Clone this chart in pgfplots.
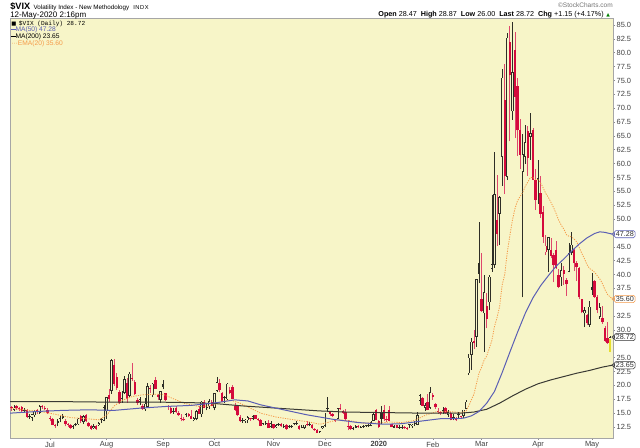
\documentclass[border=0pt]{standalone}
\usepackage{pgfplots}
\pgfplotsset{compat=1.18}
\usepackage{pgfplotstable}
\usepackage{fontspec}
\setmainfont{Liberation Sans}
\newfontfamily\monofont{Liberation Mono}
\newfontfamily\symfont{DejaVu Sans}

\definecolor{chartbg}{HTML}{F7F5C8}
\definecolor{candlered}{HTML}{D40A3C}
\definecolor{candledark}{HTML}{2E2E26}
\definecolor{mablue}{HTML}{5A5EB4}
\definecolor{madark}{HTML}{3A3A34}
\definecolor{emaorange}{HTML}{F59A48}
\definecolor{lastyellow}{HTML}{E6DE2C}

% trading day index (0 = 1 Jul 2019), open, high, low, close, kind
% kind: 1 hollow black, 2 hollow red, 3 filled black, 4 filled red
\pgfplotstableread{
i o h l c k
-15 16.0 16.3 15.4 15.9 4
-14 15.6 16.4 15.3 16.0 1
-13 16.2 16.5 15.6 15.9 4
-12 15.7 16.1 15.3 15.8 2
-11 16.1 16.3 15.2 15.3 4
-10 15.6 15.9 15.1 15.4 3
-9 15.5 15.7 14.2 14.3 4
-8 14.4 14.9 13.9 14.3 3
-7 14.2 14.9 13.6 14.8 1
-6 14.6 15.5 14.3 15.4 1
-5 15.6 15.8 14.9 15.3 4
-4 15.1 16.5 14.9 16.3 1
-3 16.1 16.5 15.8 16.2 2
-2 16.0 16.2 15.5 15.8 4
-1 15.5 15.9 14.9 15.1 4
0 14.0 14.4 13.5 14.1 2
1 13.9 14.2 12.8 12.9 4
2 12.9 13.0 12.4 12.6 4
3 13.5 14.0 12.6 13.3 3
4 14.0 14.5 13.4 14.0 3
5 14.5 14.9 13.9 14.1 3
6 13.6 14.0 12.6 13.0 4
7 12.9 13.3 12.5 12.9 4
8 12.8 13.0 12.2 12.4 4
9 12.5 12.9 12.2 12.7 1
10 12.9 13.2 12.6 12.9 3
11 13.0 14.1 12.9 14.0 1
12 14.4 14.7 13.2 13.5 4
13 13.4 14.6 13.0 14.5 1
14 14.6 14.8 13.4 13.5 4
15 13.2 13.4 12.5 12.6 4
16 12.7 12.9 12.0 12.1 4
17 12.3 13.1 12.1 12.7 1
18 12.6 12.8 12.0 12.2 4
19 12.9 13.4 12.7 13.2 1
20 13.7 14.2 13.2 13.9 1
21 13.6 16.4 13.5 16.1 1
22 15.3 18.0 14.0 17.9 1
23 18.3 19.4 17.1 17.6 4
24 19.0 24.8 18.5 24.6 1
25 23.7 24.8 19.9 20.2 4
26 21.5 22.2 19.2 19.5 4
27 18.9 19.1 16.7 16.9 4
28 17.6 19.0 16.9 18.0 1
29 18.7 21.7 18.5 21.1 1
30 20.4 21.3 16.9 17.5 4
31 18.1 22.4 17.9 22.1 1
32 21.3 24.1 20.8 21.2 4
33 20.6 20.9 18.3 18.5 4
34 17.4 17.8 16.5 16.9 4
35 17.1 17.9 16.5 17.5 1
36 16.2 16.6 15.6 15.8 4
37 15.7 17.7 15.4 16.7 1
38 16.1 20.4 16.0 19.9 1
39 19.3 20.0 18.6 19.3 4
40 18.2 20.5 17.9 20.3 1
41 21.0 21.5 19.3 19.4 4
42 18.3 18.4 17.3 17.9 4
43 17.4 19.0 16.9 19.0 1
44 20.2 21.0 19.3 19.7 3
45 18.6 18.7 17.2 17.3 4
46 16.1 16.5 15.6 16.3 2
47 15.9 16.1 14.9 15.0 4
48 15.4 16.0 14.9 15.3 3
49 15.9 16.3 15.1 15.2 4
50 15.1 15.3 14.5 14.6 4
51 14.0 14.8 13.5 14.2 2
52 14.0 14.3 13.5 13.7 4
53 14.9 15.0 14.3 14.7 3
54 14.9 15.1 14.3 14.4 4
55 14.5 15.5 13.9 14.0 4
56 13.7 14.3 13.5 14.1 1
57 14.0 15.6 13.7 15.3 1
58 15.8 16.2 14.9 14.9 4
59 14.8 17.2 14.3 17.1 1
60 17.0 17.3 15.9 16.0 4
61 15.9 16.6 15.5 16.1 1
62 16.2 17.6 15.8 17.2 1
63 17.1 17.3 16.2 16.2 4
64 15.9 18.7 15.5 18.6 1
65 19.0 21.5 18.8 20.6 1
66 20.5 21.1 18.8 19.1 4
67 18.6 18.8 17.0 17.0 4
68 17.7 18.1 16.9 17.9 1
69 17.5 20.4 17.3 20.3 1
70 19.2 19.8 18.4 18.6 4
71 19.8 20.1 17.5 17.6 4
72 16.3 16.9 15.4 15.6 4
73 16.2 16.3 14.5 14.6 4
74 14.3 14.6 13.4 13.5 4
75 13.7 14.1 13.3 13.7 3
76 13.5 14.0 13.2 13.8 1
77 13.7 14.5 13.2 14.3 1
78 13.9 14.2 13.6 14.0 2
79 14.0 14.6 13.7 14.5 1
80 14.6 14.7 13.9 14.0 4
81 13.9 14.2 13.5 13.7 4
82 13.8 13.9 12.6 12.7 4
83 13.0 13.2 12.8 13.1 1
84 13.0 13.5 12.9 13.2 1
85 13.3 13.8 12.3 12.3 4
86 12.5 13.6 12.4 13.2 1
87 13.0 13.1 12.2 12.3 4
88 12.5 13.0 12.3 12.8 1
89 12.9 13.2 12.7 13.1 1
90 13.1 13.3 12.5 12.6 4
91 12.6 13.1 12.4 12.7 1
92 12.9 13.0 12.0 12.1 4
93 12.5 12.8 12.3 12.7 1
94 12.6 12.9 12.4 12.7 1
95 13.0 13.3 12.8 13.0 3
96 13.1 13.6 12.9 13.1 3
97 12.7 12.8 12.0 12.1 4
98 12.4 12.8 12.3 12.5 1
99 12.3 12.9 12.2 12.9 1
100 13.0 13.6 12.7 12.8 4
101 12.8 13.4 12.6 13.0 1
102 12.9 13.0 12.2 12.3 4
103 12.2 12.4 11.8 11.9 4
104 12.0 12.1 11.4 11.5 4
105 11.6 11.8 11.5 11.8 1
106 12.3 12.7 12.1 12.6 1
107 12.7 15.1 12.5 14.9 1
108 15.8 18.0 15.3 16.0 1
109 15.2 15.3 14.5 14.8 4
110 14.8 15.1 14.3 14.5 4
111 13.9 14.0 13.4 13.6 4
112 14.0 15.9 13.9 15.9 1
113 16.0 16.7 15.5 15.7 4
114 15.4 15.6 14.9 15.0 4
115 15.2 15.8 13.6 13.9 4
116 12.7 13.8 11.9 12.6 4
117 12.6 12.8 12.0 12.1 4
118 12.2 12.5 11.9 12.3 1
119 12.4 12.8 12.3 12.6 1
120 12.7 12.9 12.3 12.5 4
121 12.4 12.7 12.3 12.5 1
122 12.6 12.9 12.4 12.6 3
123 12.7 12.8 12.5 12.7 3
124 12.8 13.0 12.5 12.7 3
125 12.7 13.6 12.6 13.4 1
126 13.6 15.1 13.5 14.8 1
127 15.5 15.7 13.7 13.8 4
128 13.5 13.7 12.3 12.5 4
129 15.0 16.2 13.1 14.0 3
130 15.5 16.4 13.5 13.9 4
131 13.9 14.5 13.4 13.8 4
132 15.5 16.2 13.5 13.5 4
133 13.0 13.1 12.5 12.5 4
134 12.4 12.9 12.3 12.6 1
135 12.8 12.9 12.3 12.3 4
136 12.5 12.8 12.2 12.4 3
137 12.4 12.8 12.2 12.4 3
138 12.3 12.6 12.2 12.3 4
139 12.3 12.5 12.0 12.1 4
140 12.9 13.0 12.3 12.9 3
141 12.6 13.0 12.4 12.9 1
142 13.0 13.5 12.6 13.0 3
143 12.9 15.2 12.8 14.6 1
144 17.2 18.5 16.5 18.2 1
145 17.8 18.0 16.2 16.3 4
146 16.0 16.8 15.4 16.4 1
147 17.1 18.4 15.5 15.5 4
148 16.0 19.7 15.8 18.8 1
149 18.2 18.7 17.4 18.0 4
150 16.6 16.8 15.8 16.1 4
151 15.3 15.9 14.9 15.2 4
152 15.2 15.4 14.7 15.0 4
153 15.3 16.1 14.9 15.5 1
154 16.0 16.1 14.9 15.0 4
155 14.7 15.6 14.3 15.2 1
156 15.1 15.2 13.7 13.7 4
157 14.2 14.8 13.7 14.2 3
158 14.2 14.3 13.6 13.7 4
159 14.6 15.2 14.2 14.8 1
160 14.4 14.5 13.9 14.4 4
161 14.5 15.6 14.2 15.6 1
162 15.8 17.4 15.7 17.1 1
163 22.2 25.6 21.9 25.0 1
164 25.5 28.6 22.8 27.9 1
165 28.0 30.0 26.6 27.6 4
166 28.8 39.2 27.0 39.2 1
167 42.0 49.5 38.4 40.1 3
168 35.5 43.8 33.3 33.4 4
169 33.0 39.9 26.0 36.8 1
170 34.3 36.7 30.3 32.0 4
171 35.0 40.0 33.6 39.6 1
172 41.0 54.4 40.5 41.9 1
173 41.7 62.1 41.2 54.5 1
174 49.8 58.0 45.1 47.3 4
175 51.0 54.1 45.3 53.9 1
176 61.2 77.0 56.0 75.5 1
177 71.5 78.0 54.5 57.8 4
178 57.6 83.6 57.0 82.7 1
179 82.0 84.8 64.0 75.9 4
180 69.4 85.5 67.9 76.5 1
181 80.5 83.8 64.6 72.0 4
182 74.0 75.5 61.4 66.0 4
183 66.0 68.0 59.0 61.6 4
184 58.5 65.3 35.9 61.7 1
185 61.2 67.0 60.0 63.9 1
186 65.8 66.8 57.8 61.0 4
187 64.8 69.1 60.7 65.5 1
188 66.0 66.5 57.0 57.1 4
189 57.0 59.0 51.6 53.5 4
190 57.4 60.6 52.8 57.1 3
191 54.7 57.8 50.2 50.9 4
192 51.3 52.3 45.7 46.8 4
193 44.0 47.1 43.6 45.2 2
194 44.4 46.8 40.5 46.7 1
195 44.4 46.6 42.9 43.4 4
196 43.5 43.9 38.6 41.7 4
197 44.5 46.0 41.0 41.2 4
198 40.0 41.0 37.5 37.8 4
199 39.5 42.1 38.0 40.8 1
200 40.8 41.5 38.1 40.1 4
201 39.0 39.4 36.2 38.2 4
202 40.5 45.6 40.4 43.8 1
203 43.9 47.7 43.5 45.4 1
204 44.4 44.6 40.6 42.0 4
205 42.0 42.5 38.8 41.4 4
206 41.2 41.4 35.5 35.9 4
207 35.5 35.6 33.0 33.3 4
208 33.0 34.2 30.5 33.6 1
209 32.7 32.9 30.9 31.2 4
210 30.9 35.2 30.6 34.2 1
211 37.8 40.3 36.3 37.2 3
212 38.9 39.0 35.8 36.0 4
213 35.9 36.3 33.0 33.6 4
214 32.4 34.8 32.0 34.1 1
215 32.2 34.3 31.1 31.4 4
216 30.3 30.8 27.9 28.0 4
217 28.5 31.5 27.5 27.6 4
218 28.47 28.87 26.00 28.72 1
}\candles

\pgfplotsset{
  candle/.style 2 args={draw=none, mark=none,
    /pgfplots/error bars/y dir=plus, /pgfplots/error bars/y explicit,
    /pgfplots/error bars/error mark=none,
    /pgfplots/error bars/error bar style={draw=#1, line width=#2, line cap=butt}},
}

\begin{document}
\begin{tikzpicture}
\begin{axis}[
  name=main, at={(0pt,0pt)}, anchor=south west,
  scale only axis, width=452.25pt, height=315pt,
  xmin=-15.57, xmax=219.15, ymin=10.52, ymax=86.26,
  axis background/.style={fill=chartbg},
  axis line style={draw=black!35, line width=0.4pt},
  clip=false,
  ytick={12.5,15,17.5,20,22.5,25,30,32.5,37.5,40,42.5,45,50,52.5,55,57.5,60,62.5,65,67.5,70,72.5,75,77.5,80,82.5,85},
  yticklabels={12.5,15.0,17.5,20.0,22.5,25.0,30.0,32.5,37.5,40.0,42.5,45.0,50.0,52.5,55.0,57.5,60.0,62.5,65.0,67.5,70.0,72.5,75.0,77.5,80.0,82.5,85.0},
  ytick pos=right, xtick pos=left,
  tick align=outside, major tick length=1.5pt,
  tick style={draw=black!45, line width=0.4pt},
  yticklabel style={font=\fontsize{5.6}{6}\selectfont, text=black!75, inner sep=1pt},
  xtick={0,22,44,64,87,107,128,149,168,190,211},
  xticklabels={Jul,Aug,Sep,Oct,Nov,Dec,\textbf{2020},Feb,Mar,Apr,May},
  xticklabel style={font=\fontsize{5.6}{6}\selectfont, text=black!75, inner sep=1pt},
]
% wicks
\addplot[restrict expr to domain={mod(\thisrow{k},2)}{1:1}, candle={candledark}{0.55pt}]
  table[x=i, y=l, y error expr={\thisrow{h}-\thisrow{l}}] {\candles};
\addplot[restrict expr to domain={mod(\thisrow{k},2)}{0:0}, candle={candlered!75}{0.55pt}]
  table[x=i, y=l, y error expr={\thisrow{h}-\thisrow{l}}] {\candles};
% bodies
\addplot[restrict expr to domain={mod(\thisrow{k},2)}{1:1}, candle={candledark}{1.8pt}]
  table[x=i, y expr={min(\thisrow{o},\thisrow{c})},
        y error expr={max(abs(\thisrow{c}-\thisrow{o}),0.15)}] {\candles};
\addplot[restrict expr to domain={mod(\thisrow{k},2)}{0:0}, candle={candlered}{1.8pt}]
  table[x=i, y expr={min(\thisrow{o},\thisrow{c})},
        y error expr={max(abs(\thisrow{c}-\thisrow{o}),0.15)}] {\candles};
% hollow insides
\addplot[restrict expr to domain={\thisrow{k}}{1:2}, candle={chartbg}{0.8pt}]
  table[x=i, y expr={min(\thisrow{o},\thisrow{c})+0.12},
        y error expr={max(abs(\thisrow{c}-\thisrow{o})-0.24,0)}] {\candles};
% latest bar highlight
\addplot[candle={lastyellow}{1.6pt}] coordinates {(218,26.05) +- (0,2.35)};

% EMA(20)
\addplot[emaorange, line width=0.6pt, dash pattern=on 0.9pt off 0.9pt, mark=none] coordinates {
(-15.5,15.9) (-10,15.6) (-4,15.3) (2,14.8) (8,14.2) (14,14.0) (19,13.8) (22,14.6)
(25,16.3) (28,17.3) (32,18.0) (36,18.3) (40,18.4) (44,18.4) (48,17.6) (52,16.8)
(58,16.2) (62,16.3) (66,16.9) (70,17.4) (74,16.8) (78,15.9) (82,15.0) (88,14.3)
(95,13.8) (101,13.4) (105,13.0) (108,13.3) (112,13.8) (116,13.7) (122,13.2) (128,13.2)
(132,13.4) (137,13.3) (142,13.7) (146,14.6) (150,15.2) (155,15.3) (160,15.1) (162,15.4)
(163,16.3) (164,17.4) (165,18.4) (166,20.3) (167,22.2) (168,23.3) (169,24.6) (170,25.3)
(171,26.7) (172,28.1) (173,30.6) (174,32.2) (175,34.2) (176,38.1) (177,40.0) (178,44.0)
(179,47.0) (180,49.8) (181,51.9) (182,53.3) (183,54.1) (184,54.8) (185,55.9) (186,56.7)
(187,57.5) (188,57.5) (189,57.1) (190,57.1) (191,56.5) (192,55.6) (193,54.6) (194,53.9)
(195,53.0) (196,52.1) (197,51.0) (198,49.8) (199,48.9) (200,48.2) (201,47.2) (202,46.9)
(203,46.8) (204,46.4) (205,45.9) (206,44.9) (207,43.8) (208,42.9) (209,41.8) (210,41.1)
(211,40.8) (212,40.4) (213,39.8) (214,39.2) (215,38.4) (216,37.3) (217,36.4) (218.9,35.6)
};
% MA(200)
\addplot[madark, line width=0.75pt, mark=none] coordinates {
(-15.5,17.1) (0,17.1) (20,17.0) (40,17.0) (55,16.9) (65,16.7) (75,16.3) (85,16.0)
(95,15.7) (105,15.4) (115,15.2) (130,15.1) (145,15.0) (160,15.0) (165,15.2) (170,15.7)
(175,16.8) (180,18.1) (185,19.3) (190,20.3) (195,21.0) (200,21.6) (205,22.2) (210,22.7)
(215,23.3) (218.9,23.65)
};
% MA(50)
\addplot[mablue, line width=0.75pt, mark=none] coordinates {
(-15.5,15.0) (-5,15.3) (5,15.5) (15,15.6) (25,15.5) (35,15.9) (45,16.2) (55,16.4)
(65,16.9) (72,17.4) (77,17.2) (82,16.5) (90,15.7) (100,14.7) (110,13.9) (120,13.3)
(130,13.0) (137,13.1) (145,13.6) (152,14.0) (158,14.0) (161,14.1) (164,14.5) (167,15.3)
(170,16.8) (173,18.9) (176,22.3) (179,26.0) (182,29.6) (185,33.0) (188,35.8) (191,38.0)
(194,39.8) (197,41.5) (200,42.8) (203,44.2) (206,45.5) (209,46.6) (212,47.4) (214,47.7)
(216,47.6) (218.9,47.28)
};

% value boxes on the price scale
\node[anchor=west, draw=mablue, fill=white, rounded corners=1.2pt, inner xsep=1pt, inner ysep=0.8pt,
  font=\fontsize{5.4}{6}\selectfont, text=black!80] at (axis cs:219.6,47.28) {47.28};
\node[anchor=west, draw=emaorange, fill=white, rounded corners=1.2pt, inner xsep=1pt, inner ysep=0.8pt,
  font=\fontsize{5.4}{6}\selectfont, text=black!80] at (axis cs:219.6,35.6) {35.60};
\node[anchor=west, draw=black!80, fill=white, rounded corners=1.2pt, inner xsep=1pt, inner ysep=0.8pt,
  font=\fontsize{5.4}{6}\selectfont, text=black!80] at (axis cs:219.6,28.72) {28.72};
\node[anchor=west, draw=black!80, fill=white, rounded corners=1.2pt, inner xsep=1pt, inner ysep=0.8pt,
  font=\fontsize{5.4}{6}\selectfont, text=black!80] at (axis cs:219.6,23.65) {23.65};
\addplot[only marks, mark=o, mark size=1.1pt, mablue, fill=white] coordinates {(219.3,47.28)};
\addplot[only marks, mark=o, mark size=1.1pt, emaorange, fill=white] coordinates {(219.3,35.6)};
\addplot[only marks, mark=o, mark size=1.1pt, black!80, fill=white] coordinates {(219.3,28.72) (219.3,23.65)};
\end{axis}

% annotations in pixel units of the 640x448 frame, y measured from the bottom
\begin{scope}[shift={(main.south west)}, x=0.75pt, y=0.75pt]
\begin{scope}[shift={(-10,-10)}]
\node[anchor=base west, inner sep=0pt] at (10,438) {{\fontsize{6.9}{8}\selectfont\bfseries\$VIX}\hspace{2.5pt}{\fontsize{4.7}{6}\selectfont Volatility Index - New Methodology}\hspace{3pt}{\fontsize{4.3}{5}\selectfont I\kern0.4pt N\kern0.4pt D\kern0.4pt X}};
\node[anchor=base west, inner sep=0pt] at (10,430.7) {\fontsize{6}{7}\selectfont 12-May-2020 2:16pm};
\node[anchor=base east, inner sep=0pt, text=black!55] at (613,440) {\fontsize{4.9}{6}\selectfont \textcopyright StockCharts.com};
\node[anchor=base east, inner sep=0pt] at (604,431.5) {\fontsize{5.4}{6}\selectfont \textbf{Open} 28.47\ \ \textbf{High} 28.87\ \ \textbf{Low} 26.00\ \ \textbf{Last} 28.72\ \ \textbf{Chg} +1.15 (+4.17\%)};
\node[anchor=base west, inner sep=0pt, text=green!50!black] at (606,431.5) {\symfont\fontsize{3.5}{4}\selectfont ▲};
\node[anchor=base west, inner sep=0pt] at (11,422.7) {{\symfont\fontsize{4}{4}\selectfont ■}\hspace{2pt}{\monofont\fontsize{4.6}{5}\selectfont \$VIX (Daily) 28.72}};
\node[anchor=base west, inner sep=0pt, text=mablue] at (11,416.5) {\fontsize{5}{6}\selectfont \rule[1.3pt]{3.2pt}{0.6pt}MA(50) 47.28};
\node[anchor=base west, inner sep=0pt, text=black] at (11,409.7) {\fontsize{5}{6}\selectfont \rule[1.3pt]{3.2pt}{0.6pt}MA(200) 23.65};
\node[anchor=base west, inner sep=0pt, text=emaorange] at (11,402.5) {\fontsize{5}{6}\selectfont ···EMA(20) 35.60};
\pgfresetboundingbox
\path[use as bounding box] (0,0) rectangle (640,448);
\end{scope}
\end{scope}
\end{tikzpicture}
\end{document}
